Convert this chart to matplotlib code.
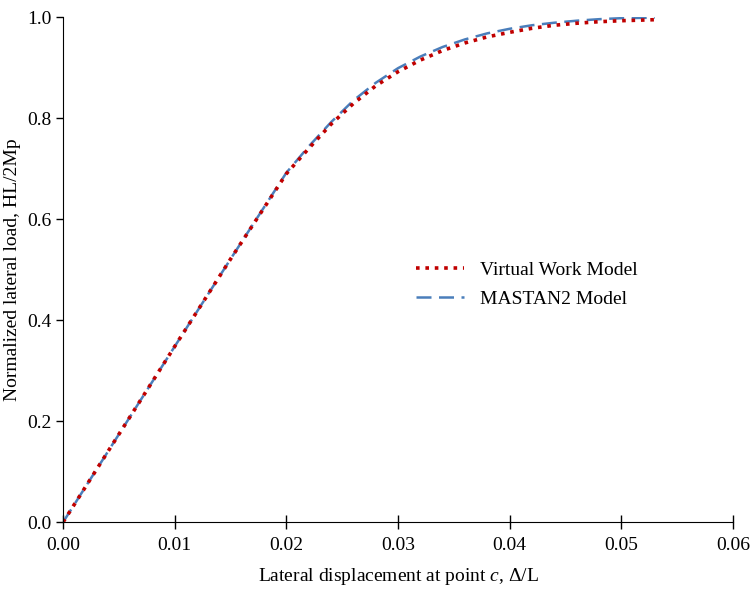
import numpy as np
import matplotlib.pyplot as plt

plt.rcParams['font.family'] = ['Liberation Serif', 'DejaVu Serif']
plt.rcParams['mathtext.fontset'] = 'custom'
plt.rcParams['mathtext.it'] = 'Liberation Serif:italic'
plt.rcParams['mathtext.rm'] = 'Liberation Serif'

# valores
x_vw = [0.0, 0.005, 0.010, 0.015, 0.020, 0.022, 0.024, 0.026, 0.028, 0.030,
        0.032, 0.034, 0.036, 0.038, 0.040, 0.042, 0.044, 0.046, 0.048, 0.050, 0.053]
y_vw = [0.0, 0.174, 0.348, 0.521, 0.690, 0.740, 0.788, 0.829, 0.864, 0.892,
        0.915, 0.934, 0.949, 0.961, 0.970, 0.978, 0.984, 0.988, 0.991, 0.993, 0.995]

x_mastan = [0.0, 0.005, 0.010, 0.015, 0.020, 0.022, 0.024, 0.026, 0.028, 0.030,
            0.032, 0.034, 0.036, 0.038, 0.040, 0.042, 0.044, 0.046, 0.048, 0.050, 0.053]
y_mastan = [0.0, 0.174, 0.348, 0.521, 0.692, 0.744, 0.792, 0.835, 0.870, 0.899,
            0.922, 0.941, 0.956, 0.968, 0.977, 0.984, 0.989, 0.993, 0.996, 0.998, 0.999]

fig = plt.figure(figsize=(7.51, 5.92), dpi=100)
ax = fig.add_axes([0.084, 0.118, 0.892, 0.853])

ax.plot(x_mastan, y_mastan, color='#4a7ebb', linestyle=(0, (6, 3)), linewidth=1.8,
        label='MASTAN2 Model')
ax.plot(x_vw, y_vw, color='#c00000', linestyle=(0, (1, 1.6)), linewidth=2.6,
        label='Virtual Work Model')

ax.set_xlim(0, 0.06)
ax.set_ylim(0, 1.0)
ax.set_xticks(np.arange(0, 0.061, 0.01))
ax.set_yticks(np.arange(0, 1.01, 0.2))
ax.xaxis.set_major_formatter(plt.FormatStrFormatter('%.2f'))
ax.yaxis.set_major_formatter(plt.FormatStrFormatter('%.1f'))

for s in ['top', 'right']:
    ax.spines[s].set_visible(False)
ax.tick_params(axis='x', direction='inout', length=10, width=1, labelsize=14, pad=6)
ax.tick_params(axis='y', direction='out', length=5, width=1, labelsize=14)

ax.set_xlabel('Lateral displacement at point $c$, Δ/L', fontsize=14, labelpad=8)
ax.set_ylabel('Normalized lateral load, HL/2Mp', fontsize=14)

handles, labels = ax.get_legend_handles_labels()
ax.legend(handles[::-1], labels[::-1], loc='center left', bbox_to_anchor=(0.5, 0.47),
          frameon=False, fontsize=14, handlelength=2.5, labelspacing=0.6)

fig.savefig('out.png', dpi=100)
